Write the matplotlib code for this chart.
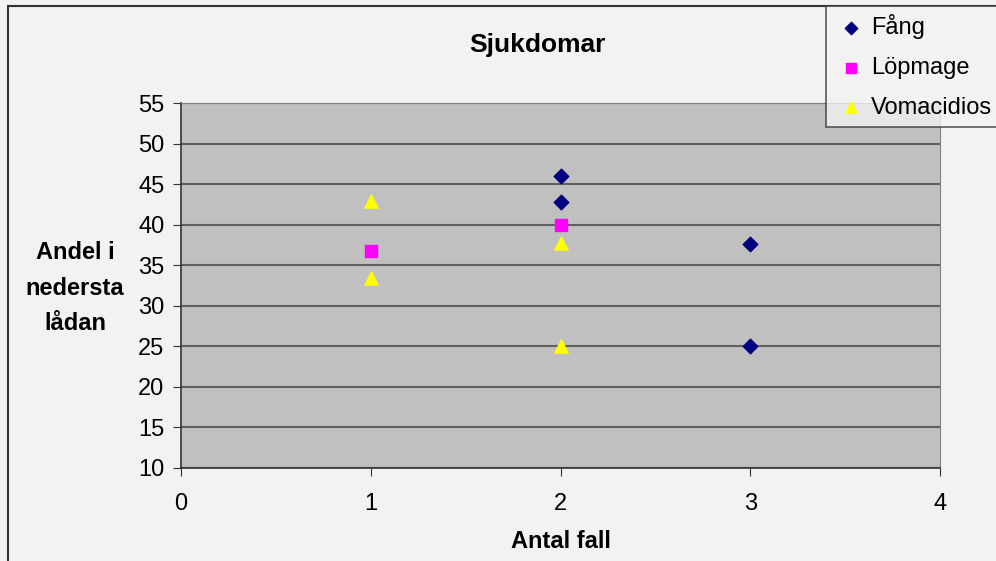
import matplotlib.pyplot as plt
from matplotlib.patches import Rectangle

plt.rcParams['font.family'] = ['Liberation Sans', 'DejaVu Sans']

# Data
fang_x = [2, 2, 3, 3]
fang_y = [46, 42.8, 37.6, 25]
lopmage_x = [1, 2]
lopmage_y = [36.7, 40]
vomac_x = [1, 1, 2, 2]
vomac_y = [42.9, 33.4, 37.7, 25]

x_ticks = [0, 1, 2, 3, 4]
y_ticks = [10, 15, 20, 25, 30, 35, 40, 45, 50, 55]

fig = plt.figure(figsize=(9.96, 5.61), dpi=100)
fig.patch.set_facecolor('#f2f2f2')

# outer chart border
fig.patches.append(Rectangle((8 / 996, -0.1), 1.2, 1 - 6 / 561 + 0.1, transform=fig.transFigure,
                             fill=False, edgecolor='#333333', linewidth=1.5))

ax = fig.add_axes([181 / 996, 1 - 468 / 561, (940 - 181) / 996, (468 - 103) / 561])
ax.set_facecolor('#c0c0c0')

ax.scatter(fang_x, fang_y, marker='D', s=55, color='#000080', label='Fång', zorder=3)
ax.scatter(lopmage_x, lopmage_y, marker='s', s=65, color='#ff00ff', label='Löpmage', zorder=3)
ax.scatter(vomac_x, vomac_y, marker='^', s=90, color='#ffff00', label='Vomacidios', zorder=3)

ax.set_xlim(0, 4)
ax.set_ylim(10, 55)
ax.set_xticks(x_ticks)
ax.set_yticks(y_ticks)
ax.yaxis.grid(True, color='#606060', linewidth=1.5)
ax.set_axisbelow(True)
ax.tick_params(labelsize=17, length=6, color='#333333', direction='out')
ax.tick_params(axis='x', pad=12)
ax.tick_params(axis='y', pad=6)

for s in ['top', 'right']:
    ax.spines[s].set_color('#808080')
for s in ['left', 'bottom']:
    ax.spines[s].set_color('#333333')
    ax.spines[s].set_linewidth(1.2)

fig.text(537 / 996, 1 - 45 / 561, 'Sjukdomar', fontsize=19, fontweight='bold',
         ha='center', va='center')
fig.text(561 / 996, 1 - 541 / 561, 'Antal fall', fontsize=17, fontweight='bold',
         ha='center', va='center')
fig.text(75 / 996, 1 - 288 / 561, 'Andel i\nnedersta\nlådan', fontsize=17, fontweight='bold',
         ha='center', va='center', linespacing=1.7)

leg = fig.legend(loc='upper left', bbox_to_anchor=(826 / 996, 1 - 6 / 561), fontsize=17,
                 frameon=True, fancybox=False, edgecolor='#333333', facecolor='#f2f2f2',
                 handletextpad=0.15, handlelength=1.4, borderpad=0.35, labelspacing=0.75,
                 borderaxespad=0, markerscale=0.85)
leg.get_frame().set_linewidth(1.2)

fig.savefig('out.png', dpi=100, facecolor=fig.get_facecolor())
